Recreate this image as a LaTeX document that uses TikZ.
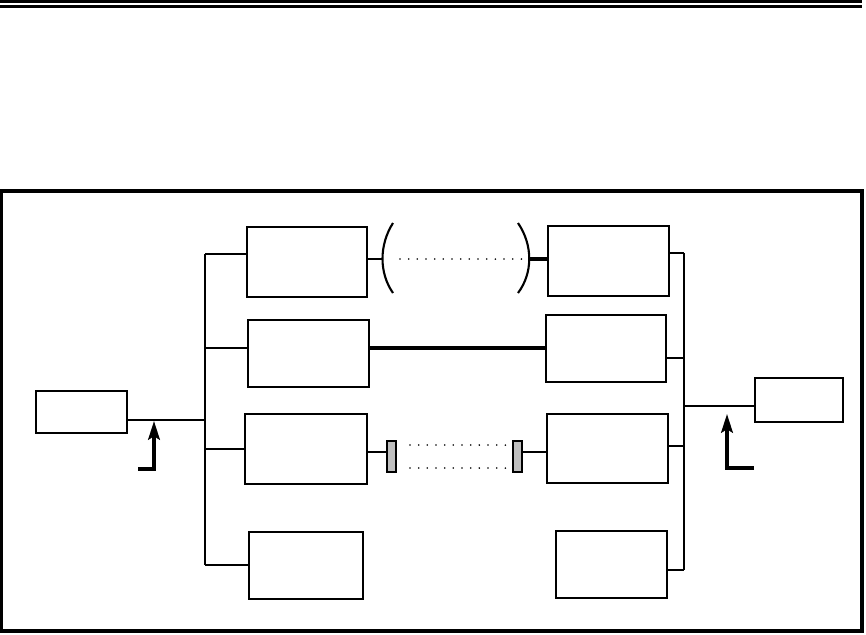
\documentclass[tikz,border=0pt]{standalone}
\usepackage{tikz}
\usetikzlibrary{arrows.meta,positioning,calc}

\begin{document}
\begin{tikzpicture}[x=0.03cm,y=-0.03cm,
  unitbox/.style={draw,line width=1.8pt,inner sep=0pt,outer sep=0pt,anchor=north west},
  plugbox/.style={draw,line width=1.7pt,fill=gray!50,inner sep=0pt,outer sep=0pt,anchor=north west,minimum width=0.27cm,minimum height=0.93cm},
  wire/.style={line width=1.3pt},
  heavywire/.style={line width=3pt},
  dotrow/.style={line width=1.5pt,line cap=round,dash pattern=on 0pt off 7.4pt},
  feed/.style={line width=2.8pt,-{Stealth[length=16pt,width=10pt,inset=3pt]}}]
  \useasboundingbox (0,0) rectangle (866,634);
  \draw[line width=2.8pt] (0,1.5)--(862,1.5);
  \draw[line width=2pt] (0,6.5)--(862,6.5);
  \draw[line width=2.8pt] (1.5,191) rectangle (862,631);
  % boxes
  \node[unitbox,minimum width=2.73cm,minimum height=1.26cm] (src) at (36,391) {};
  \node[unitbox,minimum width=3.60cm,minimum height=2.10cm] (lt1) at (247,227) {};
  \node[unitbox,minimum width=3.63cm,minimum height=2.01cm] (lt2) at (248,320) {};
  \node[unitbox,minimum width=3.66cm,minimum height=2.10cm] (lt3) at (245,414) {};
  \node[unitbox,minimum width=3.42cm,minimum height=2.01cm] (lt4) at (249,532) {};
  \node[unitbox,minimum width=3.63cm,minimum height=2.10cm] (rt1) at (548,226) {};
  \node[unitbox,minimum width=3.60cm,minimum height=2.01cm] (rt2) at (546,315) {};
  \node[unitbox,minimum width=3.63cm,minimum height=2.07cm] (rt3) at (547,414) {};
  \node[unitbox,minimum width=3.33cm,minimum height=2.01cm] (rt4) at (556,531) {};
  \node[unitbox,minimum width=2.64cm,minimum height=1.32cm] (dst) at (755,378) {};
  \node[plugbox] (plugL) at (387,441) {};
  \node[plugbox] (plugR) at (513,441) {};
  % left bus
  \coordinate (lb1) at (205,254);
  \coordinate (lb2) at (205,348);
  \coordinate (lbin) at (205,420);
  \coordinate (lb3) at (205,449);
  \coordinate (lb4) at (205,565);
  \draw[wire] (lb1) -- (lb4);
  \draw[wire] (lb1) -- (lb1 -| lt1.west);
  \draw[wire] (lb2) -- (lb2 -| lt2.west);
  \draw[wire] (lb3) -- (lb3 -| lt3.west);
  \draw[wire] (lb4) -- (lb4 -| lt4.west);
  \draw[wire] (src.east |- lbin) -- (lbin);
  \coordinate (inarr) at (154,421);
  \coordinate (infoot) at (138,469);
  \draw[feed] (infoot) -- (infoot -| inarr) -- (inarr);
  % right bus
  \coordinate (rb1) at (684,253);
  \coordinate (rb2) at (684,358);
  \coordinate (rbout) at (684,406);
  \coordinate (rb3) at (684,446);
  \coordinate (rb4) at (684,570);
  \draw[wire] (rb1) -- (rb4);
  \draw[wire] (rt1.east |- rb1) -- (rb1);
  \draw[line width=2.2pt] (rt2.east |- rb2) -- (rb2);
  \draw[wire] (rt3.east |- rb3) -- (rb3);
  \draw[wire] (rt4.east |- rb4) -- (rb4);
  \draw[line width=2.4pt] (rbout) -- (rbout -| dst.west);
  \coordinate (outarr) at (727,414);
  \coordinate (outfoot) at (754,468);
  \draw[feed] (outfoot) -- (outfoot -| outarr) -- (outarr);
  % links
  \coordinate (lp) at (382,259);
  \coordinate (rp) at (530,259);
  \draw[wire] (lt1.east |- lp) -- (lp);
  \draw[line width=1.8pt] (393,223) .. controls (379,245) and (379,273) .. (393,293);
  \draw[line width=1.8pt] (518,223) .. controls (533,245) and (533,273) .. (518,293);
  \draw[dotrow] (400,259) -- (rp);
  \draw[heavywire] (rp) -- (rp -| rt1.west);
  \coordinate (mid) at (0,348);
  \draw[heavywire] (lt2.east |- mid) -- (rt2.west |- mid);
  \coordinate (low) at (0,452);
  \draw[wire] (lt3.east |- low) -- (plugL.west |- low);
  \draw[wire] (plugR.east |- low) -- (rt3.west |- low);
  \draw[dotrow] (410,445) -- (507,445);
  \draw[dotrow] (410,468) -- (507,468);
\end{tikzpicture}
\end{document}
